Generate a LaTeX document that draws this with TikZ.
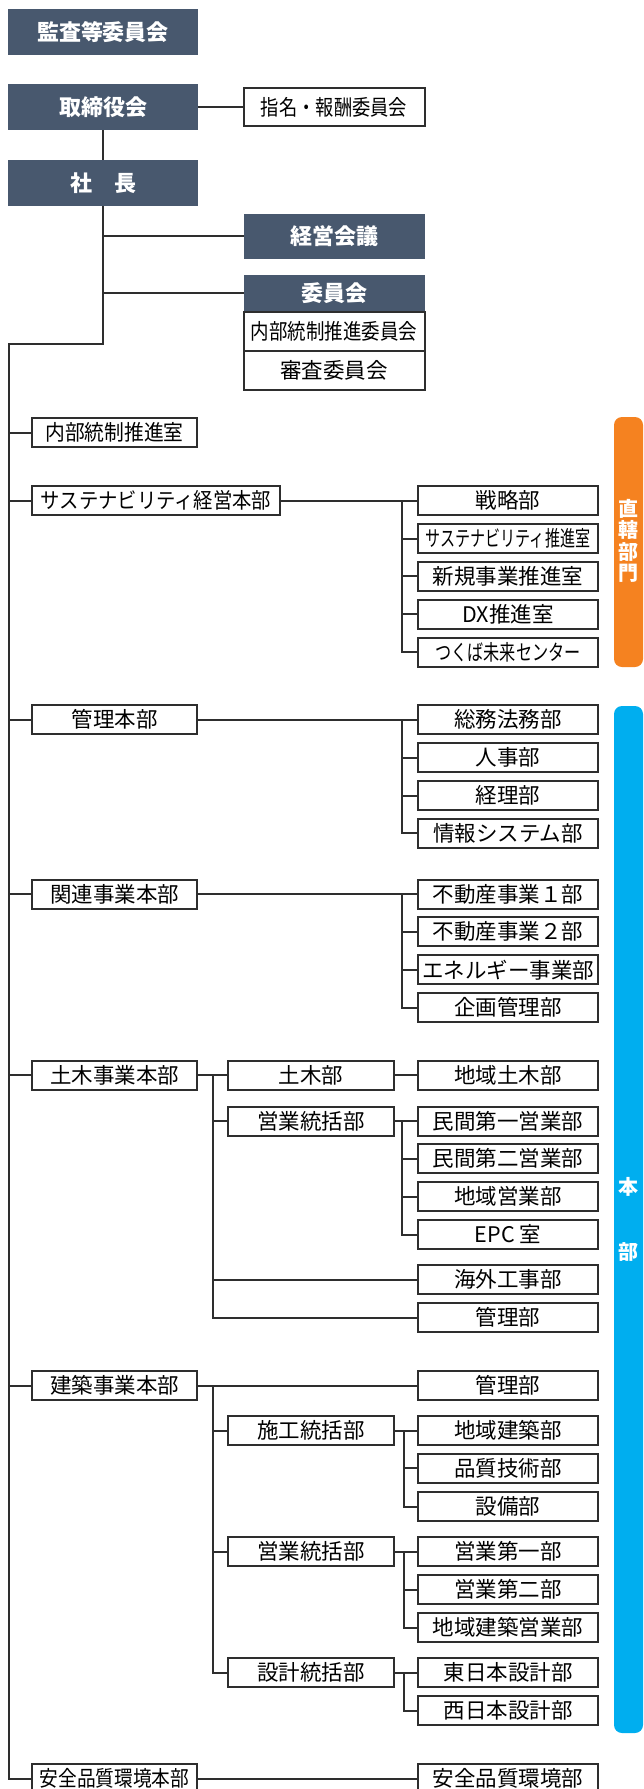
\documentclass[tikz,border=0pt]{standalone}
\usepackage{fontspec}
\usepackage{graphicx}
\newfontfamily\jp{Noto Sans CJK JP}
\definecolor{slate}{HTML}{48586E}
\definecolor{orng}{HTML}{F58220}
\definecolor{cyanb}{HTML}{00AEEF}
\definecolor{ln}{HTML}{2E2E2E}
\newcommand{\sx}[2]{\scalebox{#1}[1]{#2}}
\begin{document}
\begin{tikzpicture}[x=1pt,y=-1pt,
  every node/.style={inner sep=0pt, outer sep=0pt},
  dk/.style={fill=slate, text=white, font=\jp\bfseries\fontsize{22}{24}\selectfont},
  wb/.style={draw=ln, line width=2pt, fill=white, font=\jp\fontsize{21.5}{24}\selectfont},
  L/.style={wb, minimum width=165pt, minimum height=29pt},
  R/.style={wb, minimum width=180pt, minimum height=29pt},
  M/.style={wb, minimum width=166pt, minimum height=29pt},
  conn/.style={draw=ln, line width=2pt},
  side/.style={text=white, font=\jp\bfseries\fontsize{20}{21.3}\selectfont, align=center}
]
\useasboundingbox (0,0) rectangle (643,1789);
\clip (0,0) rectangle (643,1789);

% top
\node[dk, minimum width=190pt, minimum height=46pt] (kansa) at (103,32) {監査等委員会};
\node[dk, minimum width=190pt, minimum height=46pt] (tori) at (103,107) {取締役会};
\node[wb, minimum width=181pt, minimum height=38pt] (shimei) at (334,107) {\sx{0.85}{指名・報酬委員会}};
\node[dk, minimum width=190pt, minimum height=46pt] (shacho) at (103,183) {社　長};
\node[dk, minimum width=181pt, minimum height=45pt] (keiei) at (334,236) {経営会議};
\node[dk, minimum width=181pt, minimum height=37pt] (iinkai) at (334,293) {委員会};
\node[wb, minimum width=181pt, minimum height=39pt] (naibuiin) at (334,331.2) {\sx{0.86}{内部統制推進委員会}};
\node[wb, minimum width=181pt, minimum height=39pt] (shinsa) at (334,370.3) {審査委員会};

% left column
\node[L] (ns) at (114.5,432.6) {\sx{0.92}{内部統制推進室}};
\node[L, minimum width=248pt] (st) at (156,500.7) {\sx{0.9}{サステナビリティ経営本部}};
\node[L] (kr) at (114.5,719.7) {管理本部};
\node[L] (kn) at (114.5,894.2) {関連事業本部};
\node[L] (db) at (114.5,1075.3) {土木事業本部};
\node[L] (kc) at (114.5,1385.5) {建築事業本部};
\node[L] (az) at (114.5,1778.5) {\sx{0.87}{安全品質環境本部}};

% middle column
\node[M] (dm) at (311,1075.3) {土木部};
\node[M] (de) at (311,1121) {営業統括部};
\node[M] (cs) at (311,1430.5) {施工統括部};
\node[M] (ce) at (311,1551.5) {営業統括部};
\node[M] (cd) at (311,1672.7) {設計統括部};

% right column
\node[R] (s1) at (508,500.7) {戦略部};
\node[R] (s2) at (508,538.5) {\sx{0.7}{サステナビリティ推進室}};
\node[R] (s3) at (508,576.3) {新規事業推進室};
\node[R] (s4) at (508,614.2) {DX推進室};
\node[R] (s5) at (508,652) {\sx{0.75}{つくば未来センター}};
\node[R] (k1) at (508,719.7) {総務法務部};
\node[R] (k2) at (508,757.5) {人事部};
\node[R] (k3) at (508,795.5) {経理部};
\node[R] (k4) at (508,833.3) {情報システム部};
\node[R] (n1) at (508,894.2) {不動産事業１部};
\node[R] (n2) at (508,931.8) {不動産事業２部};
\node[R] (n3) at (508,969.8) {エネルギー事業部};
\node[R] (n4) at (508,1007.7) {企画管理部};
\node[R] (d1) at (508,1075.3) {地域土木部};
\node[R] (e1) at (508,1121) {民間第一営業部};
\node[R] (e2) at (508,1158.7) {民間第二営業部};
\node[R] (e3) at (508,1196.5) {地域営業部};
\node[R] (e4) at (508,1234.5) {EPC 室};
\node[R] (dk2) at (508,1279.5) {海外工事部};
\node[R] (dk3) at (508,1317.5) {管理部};
\node[R] (c0) at (508,1385.5) {管理部};
\node[R] (c1) at (508,1430.5) {地域建築部};
\node[R] (c2) at (508,1468.3) {品質技術部};
\node[R] (c3) at (508,1506.7) {設備部};
\node[R] (g1) at (508,1551.5) {営業第一部};
\node[R] (g2) at (508,1589.5) {営業第二部};
\node[R] (g3) at (508,1627.5) {地域建築営業部};
\node[R] (x1) at (508,1672.7) {東日本設計部};
\node[R] (x2) at (508,1710.5) {西日本設計部};
\node[R] (aR) at (508,1778.5) {安全品質環境部};

% trunk coordinates
\coordinate (t0) at (103,344.3);
\coordinate (tk) at (9,344.3);
\coordinate (bx) at (402.3,0);
\coordinate (by) at (404,0);
\coordinate (mx) at (212.8,0);

% top connectors
\draw[conn] (tori) -- (shimei);
\draw[conn] (tori) -- (shacho);
\draw[conn] (shacho.south) |- (keiei.west);
\draw[conn] (shacho.south) |- (iinkai.west);
\draw[conn] (shacho.south) -- (t0) -- (tk) |- (az.west);
\foreach \n in {ns,st,kr,kn,db,kc}{
  \draw[conn] (\n.west -| tk) -- (\n.west);
}

% groups with sub trunk at bx
\draw[conn] (st) -- (s1);
\draw[conn] (s1.west -| bx) |- (s5.west);
\foreach \n in {s2,s3,s4}{\draw[conn] (\n.west -| bx) -- (\n.west);}
\draw[conn] (kr) -- (k1);
\draw[conn] (k1.west -| bx) |- (k4.west);
\foreach \n in {k2,k3}{\draw[conn] (\n.west -| bx) -- (\n.west);}
\draw[conn] (kn) -- (n1);
\draw[conn] (n1.west -| bx) |- (n4.west);
\foreach \n in {n2,n3}{\draw[conn] (\n.west -| bx) -- (\n.west);}

% doboku
\draw[conn] (db) -- (dm);
\draw[conn] (dm) -- (d1);
\draw[conn] (db.east -| mx) |- (dk3.west);
\draw[conn] (de.west -| mx) -- (de.west);
\draw[conn] (dk2.west -| mx) -- (dk2.west);
\draw[conn] (de) -- (e1);
\draw[conn] (e1.west -| bx) |- (e4.west);
\foreach \n in {e2,e3}{\draw[conn] (\n.west -| bx) -- (\n.west);}

% kenchiku
\draw[conn] (kc) -- (c0);
\draw[conn] (kc.east -| mx) |- (cd.west);
\draw[conn] (cs.west -| mx) -- (cs.west);
\draw[conn] (ce.west -| mx) -- (ce.west);
\draw[conn] (cs) -- (c1);
\draw[conn] (c1.west -| by) |- (c3.west);
\draw[conn] (c2.west -| by) -- (c2.west);
\draw[conn] (ce) -- (g1);
\draw[conn] (g1.west -| by) |- (g3.west);
\draw[conn] (g2.west -| by) -- (g2.west);
\draw[conn] (cd) -- (x1);
\draw[conn] (x1.west -| by) |- (x2.west);

% anzen
\draw[conn] (az) -- (aR);

% side bars
\fill[orng, rounded corners=8pt] (614,417) rectangle (643,667);
\node[side] (chokkatsu) at (628.5,541) {直\\轄\\部\\門};
\fill[cyanb, rounded corners=8pt] (614,706) rectangle (643,1733);
\node[side] (hon) at (628.5,1186.7) {本};
\node[side] (bu) at (628.5,1251.7) {部};
\end{tikzpicture}
\end{document}
